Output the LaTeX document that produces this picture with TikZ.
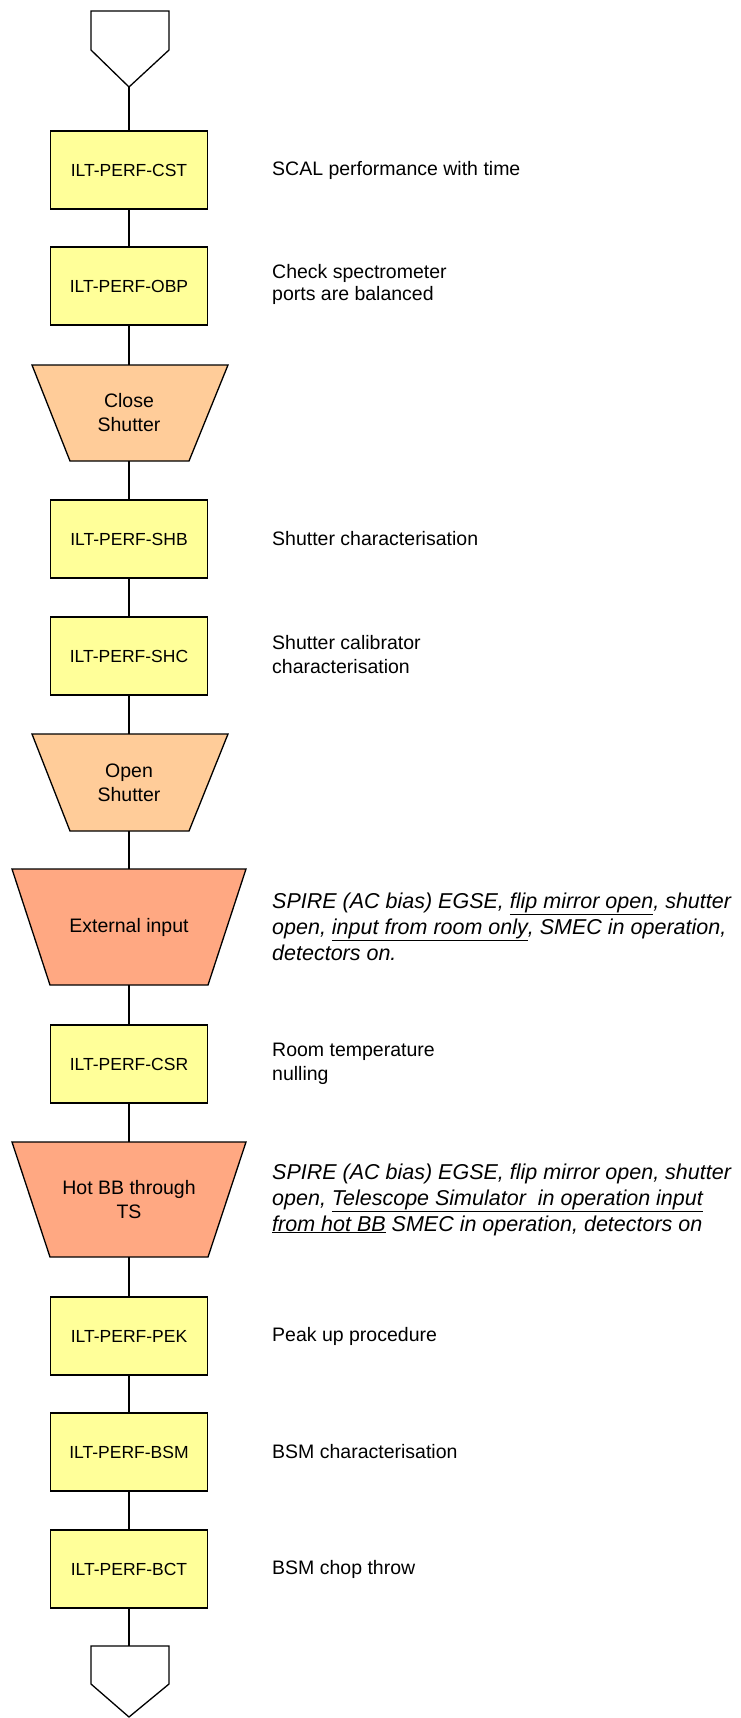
\documentclass[tikz,border=0pt]{standalone}
\usepackage{fontspec}
\setmainfont{Liberation Sans}
\definecolor{boxyellow}{HTML}{FFFF99}
\definecolor{lightorange}{HTML}{FFCC99}
\definecolor{salmon}{HTML}{FFA882}
\begin{document}
\begin{tikzpicture}[x=1pt,y=-1pt,line join=miter,
  shp/.style={draw,line width=1.3pt},
  link/.style={draw,line width=1.2pt},
  box/.style={shp,fill=boxyellow,minimum width=157.5pt,minimum height=78pt,inner sep=0pt,font=\fontsize{17.5}{21}\selectfont},
  tlab/.style={minimum height=96pt,inner sep=0pt,align=center,font=\fontsize{19.5}{24}\selectfont},
  desc/.style={anchor=west,align=left,inner sep=0pt,font=\fontsize{19.5}{24}\selectfont},
  ital/.style={anchor=west,align=left,inner sep=0pt,font=\fontsize{21.5}{26}\selectfont\itshape}]
\useasboundingbox (0,0) rectangle (741,1718);
\coordinate (tx) at (272,0);
% top off-page connector
\filldraw[shp,fill=white] (91,11) -- (169,11) -- (169,50) -- (129,87) -- (91,50) -- cycle;
\coordinate (top) at (129,87);
% boxes
\node[box] (cst) at (129,170) {ILT-PERF-CST};
\node[box] (obp) at (129,286) {ILT-PERF-OBP};
\filldraw[shp,fill=lightorange] (32,365) -- (228,365) -- (189,461) -- (70,461) -- cycle;
\node[tlab,minimum width=196pt] (close) at (129,413) {Close\\Shutter};
\node[box] (shb) at (129,539) {ILT-PERF-SHB};
\node[box] (shc) at (129,656) {ILT-PERF-SHC};
\filldraw[shp,fill=lightorange] (32,734) -- (228,734) -- (189,831) -- (70,831) -- cycle;
\node[tlab,minimum width=196pt,minimum height=97pt] (open) at (129,782.5) {Open\\Shutter};
\filldraw[shp,fill=salmon] (12,869) -- (246,869) -- (208,985) -- (50,985) -- cycle;
\node[tlab,minimum width=234pt,minimum height=116pt] (ext) at (129,927) {External input};
\node[box] (csr) at (129,1064) {ILT-PERF-CSR};
\filldraw[shp,fill=salmon] (12,1142) -- (246,1142) -- (208,1257) -- (50,1257) -- cycle;
\node[tlab,minimum width=234pt,minimum height=115pt] (hot) at (129,1199.5) {Hot BB through\\TS};
\node[box] (pek) at (129,1336) {ILT-PERF-PEK};
\node[box] (bsm) at (129,1452) {ILT-PERF-BSM};
\node[box] (bct) at (129,1569) {ILT-PERF-BCT};
% bottom off-page connector
\filldraw[shp,fill=white] (91,1646) -- (169,1646) -- (169,1684) -- (129,1717) -- (91,1684) -- cycle;
\coordinate (bot) at (129,1646);
% connectors
\draw[link] (top) -- (cst);
\draw[link] (cst) -- (obp);
\draw[link] (obp) -- (close);
\draw[link] (close) -- (shb);
\draw[link] (shb) -- (shc);
\draw[link] (shc) -- (open);
\draw[link] (open) -- (ext);
\draw[link] (ext) -- (csr);
\draw[link] (csr) -- (hot);
\draw[link] (hot) -- (pek);
\draw[link] (pek) -- (bsm);
\draw[link] (bsm) -- (bct);
\draw[link] (bct) -- (bot);
% descriptions
\node[desc] (dcst) at (cst -| tx) {SCAL performance with time};
\node[desc,font=\fontsize{19.5}{22}\selectfont] (dobp) at ([yshift=1.5pt]obp.center -| tx) {Check spectrometer\\ports are balanced};
\node[desc] (dshb) at (shb -| tx) {Shutter characterisation};
\node[desc] (dshc) at ([yshift=1pt]shc.center -| tx) {Shutter calibrator\\characterisation};
\node[ital] (dext) at (ext -| tx) {SPIRE (AC bias) EGSE, \underline{flip mirror open}, shutter\\open, \underline{input from room only}, SMEC in operation,\\detectors on.};
\node[desc] (dcsr) at (csr -| tx) {Room temperature\\nulling};
\node[ital] (dhot) at (hot -| tx) {SPIRE (AC bias) EGSE, flip mirror open, shutter\\open, \underline{Telescope Simulator\ \ in operation input}\\\underline{from hot BB} SMEC in operation, detectors on};
\node[desc] (dpek) at (pek -| tx) {Peak up procedure};
\node[desc] (dbsm) at (bsm -| tx) {BSM characterisation};
\node[desc] (dbct) at (bct -| tx) {BSM chop throw};
\end{tikzpicture}
\end{document}
